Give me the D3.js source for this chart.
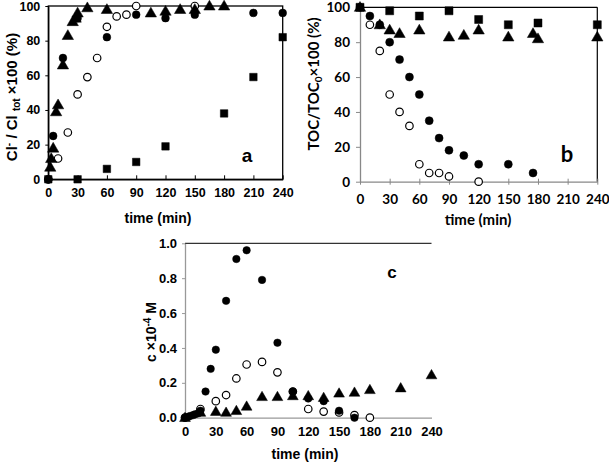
<!DOCTYPE html>
<html><head><meta charset="utf-8">
<script src="https://cdn.jsdelivr.net/npm/d3@7"></script>
<style>body{margin:0;background:#fff}svg{display:block}</style>
</head><body>
<svg id="chart" width="609" height="465"></svg>
<script>
// ---------- DATA ----------
const timeTicks = [0,30,60,90,120,150,180,210,240];
const pctTicks = [0,20,40,60,80,100];
const cTicks = [0,0.2,0.4,0.6,0.8,1.0];

// Panel a: Cl- / Cl tot x100 (%)
const aFilledCircle = [[0,0],[5,25],[15,70],[30,93],[60,82],[90,95],[120,93],[150,95],[210,96],[240,96]];
const aOpenCircle = [[0,0],[10,12],[20,27],[30,49],[40,59],[50,70],[60,88],[70,94],[80,95],[90,100],[150,100]];
const aTriangle = [[2,7],[3,12],[5,18],[8,39],[10,43],[15,66],[20,83],[25,91],[28,93],[30,96],[40,99],[60,98],[105,96],[120,97],[135,98],[150,98],[165,100],[180,100]];
const aSquare = [[0,0],[30,0],[60,6],[90,10],[120,19],[180,38],[210,59],[240,82]];

// Panel b: TOC/TOC0 x100 (%)
const bSquare = [[0,100],[30,98],[60,95],[90,98],[120,93],[150,90],[180,91],[240,90]];
const bTriangle = [[0,100],[20,90],[30,87],[40,85],[60,87],[90,83],[105,84],[120,87],[150,83],[175,85],[180,82],[240,83]];
const bFilledCircle = [[0,100],[10,95],[20,90],[30,80],[40,70],[50,60],[60,50],[70,35],[80,25],[90,18],[105,15],[120,10],[150,10],[175,5]];
const bOpenCircle = [[10,90],[20,75],[30,50],[40,40],[50,32],[60,10],[70,5],[80,5],[90,3],[120,0]];

// Panel c: c x10^-4 M
const cTriangle = [[0,0],[15,0.03],[30,0.035],[40,0.03],[50,0.04],[60,0.065],[75,0.12],[90,0.12],[105,0.125],[120,0.125],[135,0.115],[150,0.14],[165,0.145],[180,0.16],[210,0.17],[240,0.245]];
const cOpenCircle = [[0,0],[15,0.05],[30,0.095],[40,0.13],[50,0.225],[60,0.305],[75,0.32],[90,0.26],[105,0.15],[120,0.05],[135,0.035],[150,0.03],[165,0.015],[180,0]];
const cFilledCircle = [[0,0],[3,0.005],[5,0.01],[8,0.015],[10,0.02],[13,0.025],[15,0.04],[20,0.15],[25,0.28],[30,0.39],[40,0.67],[50,0.91],[60,0.96],[75,0.79],[90,0.43],[105,0.15],[120,0.11],[135,0.095],[150,0.04],[165,0]];

// ---------- DRAW ----------
const svg = d3.select("#chart");
const ARIAL = "'Liberation Sans', Arial, sans-serif";
const CALIBRI = "Lato, 'Open Sans', sans-serif";

function drawMarkers(g, x, y, data, kind, size) {
  const pts = g.append("g").selectAll("path").data(data).join("path");
  let sym;
  if (kind === "square") sym = d3.symbol(d3.symbolSquare, size*size);
  else if (kind === "triangle") sym = d3.symbol(d3.symbolTriangle, size*size*0.62);
  else sym = d3.symbol(d3.symbolCircle, Math.PI*(size/2)*(size/2));
  pts.attr("d", sym)
    .attr("transform", d => {
      const dy = kind === "triangle" ? size*0.08 : 0;
      return `translate(${x(d[0])},${y(d[1]) + dy})`;
    })
    .attr("fill", kind === "open" ? "#fff" : "#000")
    .attr("stroke", "#000")
    .attr("stroke-width", kind === "open" ? 1.2 : 0.5);
}

// Panel a
(function(){
  const x = d3.scaleLinear().domain([0,240]).range([48.3,282.7]);
  const y = d3.scaleLinear().domain([0,100]).range([179.3,6]);
  const g = svg.append("g");
  g.append("rect").attr("x",48.3).attr("y",6).attr("width",234.4).attr("height",173.3)
    .attr("fill","none").attr("stroke","#000").attr("stroke-width",1.3);
  const xa = g.append("g").attr("transform","translate(0,179.3)")
    .call(d3.axisBottom(x).tickValues(timeTicks).tickSizeInner(-4).tickSizeOuter(0).tickPadding(9));
  const ya = g.append("g").attr("transform","translate(48.3,0)")
    .call(d3.axisLeft(y).tickValues(pctTicks).tickSizeInner(3).tickSizeOuter(0).tickPadding(5));
  [xa,ya].forEach(a=>{a.select(".domain").attr("stroke","#000").attr("stroke-width",1.3);
    a.selectAll("line").attr("stroke","#000");
    a.selectAll("text").attr("font-family",ARIAL).attr("font-weight","bold").attr("font-size",12.5).attr("fill","#000");});
  drawMarkers(g,x,y,aSquare,"square",7.5);
  drawMarkers(g,x,y,aOpenCircle,"open",7.5);
  drawMarkers(g,x,y,aFilledCircle,"filled",7.8);
  drawMarkers(g,x,y,aTriangle,"triangle",9.5);
  g.append("text").attr("x",247).attr("y",162).attr("text-anchor","middle").attr("font-family",ARIAL).attr("font-weight","bold")
    .attr("font-size",19).text("a");
  g.append("text").attr("x",158).attr("y",223).attr("text-anchor","middle").attr("font-family",ARIAL)
    .attr("font-weight","bold").attr("font-size",14).text("time (min)");
  const yl = g.append("text").attr("transform","translate(17,97) rotate(-90)").attr("text-anchor","middle")
    .attr("font-family",ARIAL).attr("font-weight","bold").attr("font-size",15);
  yl.append("tspan").text("Cl");
  yl.append("tspan").attr("font-size",10).attr("dy",-5).text("-");
  yl.append("tspan").attr("dy",5).text(" / Cl ");
  yl.append("tspan").attr("font-size",10).attr("dy",3).text("tot");
  yl.append("tspan").attr("dy",-3).text(" ×100 (%)");
})();

// Panel b
(function(){
  const x = d3.scaleLinear().domain([0,240]).range([360,597.3]);
  const y = d3.scaleLinear().domain([0,100]).range([181.7,7.3]);
  const g = svg.append("g");
  g.append("line").attr("x1",360).attr("x2",597.3).attr("y1",7.3).attr("y2",7.3).attr("stroke","#000").attr("stroke-width",1.2);
  g.append("line").attr("x1",597.3).attr("x2",597.3).attr("y1",7.3).attr("y2",181.7).attr("stroke","#000").attr("stroke-width",1.2);
  const xa = g.append("g").attr("transform","translate(0,181.7)")
    .call(d3.axisBottom(x).tickValues(timeTicks).tickSizeInner(3).tickSizeOuter(0).tickPadding(10));
  xa.selectAll(".tick line").attr("y1",-3);
  const ya = g.append("g").attr("transform","translate(360,0)")
    .call(d3.axisLeft(y).tickValues(pctTicks).tickSizeInner(4).tickSizeOuter(0).tickPadding(6));
  [xa,ya].forEach(a=>{a.select(".domain").attr("stroke","#888").attr("stroke-width",1.3);
    a.selectAll("line").attr("stroke","#888");
    a.selectAll("text").attr("font-family",CALIBRI).attr("font-weight","bold").attr("font-size",13.5).attr("fill","#000");});
  drawMarkers(g,x,y,bTriangle,"triangle",9.5);
  drawMarkers(g,x,y,bFilledCircle,"filled",8);
  drawMarkers(g,x,y,bOpenCircle,"open",7.5);
  drawMarkers(g,x,y,bSquare,"square",8);
  g.append("text").attr("x",567).attr("y",162).attr("text-anchor","middle").attr("font-family",CALIBRI).attr("font-weight","bold")
    .attr("font-size",22).text("b");
  g.append("text").attr("x",478).attr("y",225).attr("text-anchor","middle").attr("font-family",CALIBRI)
    .attr("font-weight","bold").attr("font-size",15).text("time (min)");
  const yl = g.append("text").attr("transform","translate(319,84) rotate(-90)").attr("text-anchor","middle")
    .attr("font-family",CALIBRI).attr("font-weight","bold").attr("font-size",15);
  yl.append("tspan").text("TOC/TOC");
  yl.append("tspan").attr("font-size",10).attr("dy",3).text("0");
  yl.append("tspan").attr("dy",-3).text("×100 (%)");
})();

// Panel c
(function(){
  const x = d3.scaleLinear().domain([0,240]).range([185,431.5]);
  const y = d3.scaleLinear().domain([0,1]).range([417.7,243.3]);
  const g = svg.append("g");
  g.append("line").attr("x1",185).attr("x2",431.5).attr("y1",243.3).attr("y2",243.3).attr("stroke","#333").attr("stroke-width",1.2);
  const xa = g.append("g").attr("transform","translate(0,417.7)")
    .call(d3.axisBottom(x).tickValues(timeTicks).tickSizeInner(0).tickSizeOuter(0).tickPadding(9));
  const ya = g.append("g").attr("transform","translate(185,0)")
    .call(d3.axisLeft(y).tickValues(cTicks).tickFormat(d3.format(".1f")).tickSizeInner(3).tickSizeOuter(0).tickPadding(5));
  [xa,ya].forEach(a=>{a.select(".domain").attr("stroke","#999").attr("stroke-width",1.3);
    a.selectAll("line").attr("stroke","#999");
    a.selectAll("text").attr("font-family",ARIAL).attr("font-weight","bold").attr("font-size",13).attr("fill","#000");});
  drawMarkers(g,x,y,cTriangle,"triangle",9);
  drawMarkers(g,x,y,cOpenCircle,"open",7.5);
  drawMarkers(g,x,y,cFilledCircle,"filled",7.5);
  g.append("text").attr("x",392).attr("y",278).attr("text-anchor","middle").attr("font-family",ARIAL).attr("font-weight","bold")
    .attr("font-size",17).text("c");
  g.append("text").attr("x",305).attr("y",459).attr("text-anchor","middle").attr("font-family",ARIAL)
    .attr("font-weight","bold").attr("font-size",14).text("time (min)");
  const yl = g.append("text").attr("transform","translate(156,332) rotate(-90)").attr("text-anchor","middle")
    .attr("font-family",ARIAL).attr("font-weight","bold").attr("font-size",14);
  yl.append("tspan").text("c ×10");
  yl.append("tspan").attr("font-size",10).attr("dy",-5).text("-4");
  yl.append("tspan").attr("dy",5).text(" M");
})();
</script>
</body></html>
